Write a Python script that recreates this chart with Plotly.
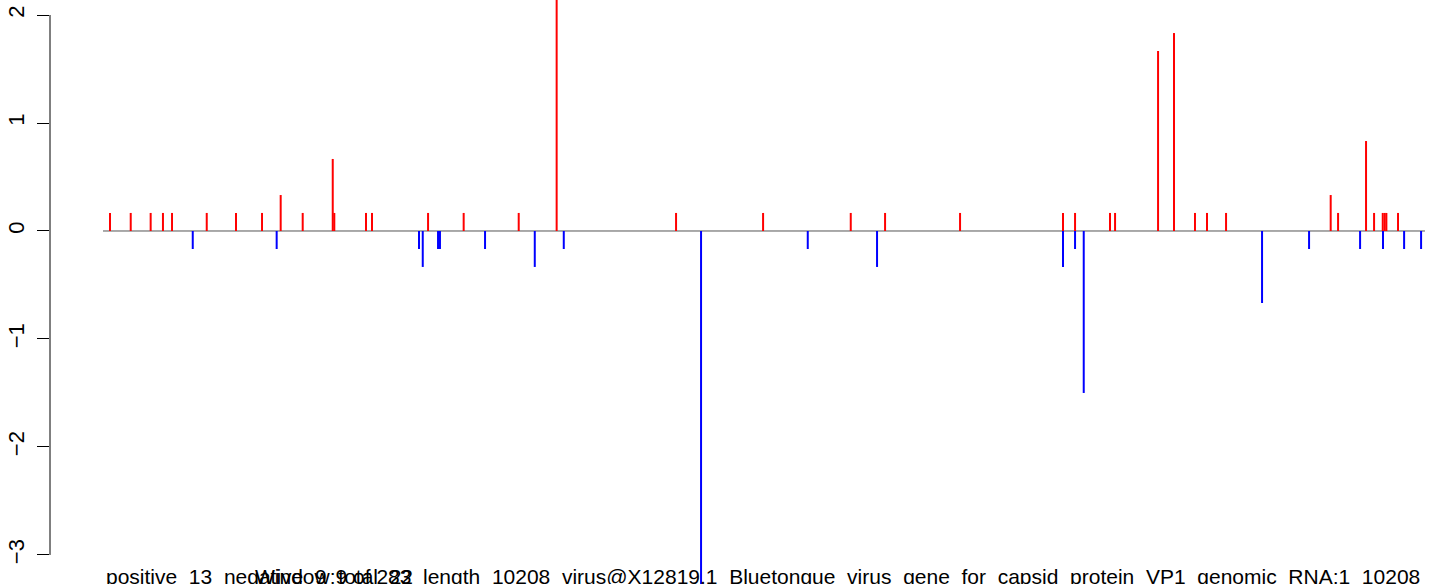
import plotly.graph_objects as go

# positions along sequence (nt) and scores
pos_x = [54, 214, 368, 463, 533, 801, 1027, 1228, 1372, 1542, 1774, 1786, 2031, 2077,
         2510, 2785, 3210, 3503, 4425, 5097, 5774, 6039, 6618, 7413, 7506, 7776, 7815,
         8147, 8270, 8432, 8525, 8672, 9480, 9537, 9753, 9815, 9882, 9897, 9910, 10000]
pos_y = [0.167, 0.167, 0.167, 0.167, 0.167, 0.167, 0.167, 0.167, 0.333, 0.167, 0.667, 0.167,
         0.167, 0.167, 0.167, 0.167, 0.167, 2.333, 0.167, 0.167, 0.167, 0.167, 0.167, 0.167,
         0.167, 0.167, 0.167, 1.667, 1.833, 0.167, 0.167, 0.167, 0.333, 0.167, 0.833, 0.167,
         0.167, 0.167, 0.167, 0.167]
neg_x = [693, 1341, 2440, 2469, 2587, 2602, 2950, 3334, 3558, 4618, 5442, 5977, 7413, 7506,
         7573, 8950, 9313, 9707, 9884, 10047, 10178]
neg_y = [-0.167, -0.167, -0.167, -0.333, -0.167, -0.167, -0.167, -0.333, -0.167, -3.5, -0.167,
         -0.333, -0.333, -0.167, -1.5, -0.667, -0.167, -0.167, -0.167, -0.167, -0.167]
seq_len = 10208
y_ticks = [-3, -2, -1, 0, 1, 2]
caption_a = "positive 13 negative 9 total 22"
caption_b = ("length 10208 virus@X12819.1 "
             "Bluetongue virus gene for capsid protein VP1 genomic RNA;1 10208")
caption2 = "Window:9 of 283"

W, H = 1444, 584
ML = 50
PW = W - ML


def spikes(xs, ys):
    lx, ly = [], []
    for x, y in zip(xs, ys):
        lx += [x, x, None]
        ly += [0, y, None]
    return lx, ly


fig = go.Figure()
fig.add_trace(go.Scatter(x=[0, seq_len], y=[0, 0], mode="lines",
                         line=dict(color="#555555", width=1), hoverinfo="skip"))
rx, ry = spikes(pos_x, pos_y)
fig.add_trace(go.Scatter(x=rx, y=ry, mode="lines", line=dict(color="#ff0000", width=2)))
bx, by = spikes(neg_x, neg_y)
fig.add_trace(go.Scatter(x=bx, y=by, mode="lines", line=dict(color="#0000ff", width=2)))

fig.add_shape(type="line", xref="paper", yref="y", x0=0, x1=0, y0=-3, y1=2,
              line=dict(color="black", width=1))


def wide(s):
    return s.replace(" ", " \u00a0")


def px(sx):
    return (sx - ML) / PW


cap_y = (584 - 576) / H
cap_font = dict(size=21, color="black", family="Liberation Sans")
fig.add_annotation(text=wide(caption_a), xref="paper", yref="paper", x=px(104),
                   y=cap_y, xanchor="left", yanchor="middle", showarrow=False, font=cap_font)
fig.add_annotation(text=wide(caption_b), xref="paper", yref="paper", x=px(421),
                   y=cap_y, xanchor="left", yanchor="middle", showarrow=False, font=cap_font)
fig.add_annotation(text=caption2, xref="paper", yref="paper", x=px(253),
                   y=cap_y, xanchor="left", yanchor="middle", showarrow=False, font=cap_font)

fig.update_layout(
    width=W, height=H,
    margin=dict(l=ML, r=0, t=0, b=0, autoexpand=False),
    paper_bgcolor="white", plot_bgcolor="white",
    showlegend=False,
    font=dict(family="Liberation Sans", size=21, color="black"),
    xaxis=dict(range=[-409.3, 10355], visible=False, showgrid=False, zeroline=False,
               automargin=False),
    yaxis=dict(range=[-3.269, 2.139], tickvals=y_ticks,
               ticktext=[str(v).replace("-", "\u2212") for v in y_ticks],
               ticks="outside", ticklen=12, tickwidth=1, tickcolor="black",
               tickangle=-90, showgrid=False, zeroline=False, showline=False,
               automargin=False, ticklabelstandoff=4,
               tickfont=dict(size=22)),
)

fig.write_html("out.html", config={"displayModeBar": False},
               post_script="document.body.style.margin='0';document.body.style.padding='0';")
